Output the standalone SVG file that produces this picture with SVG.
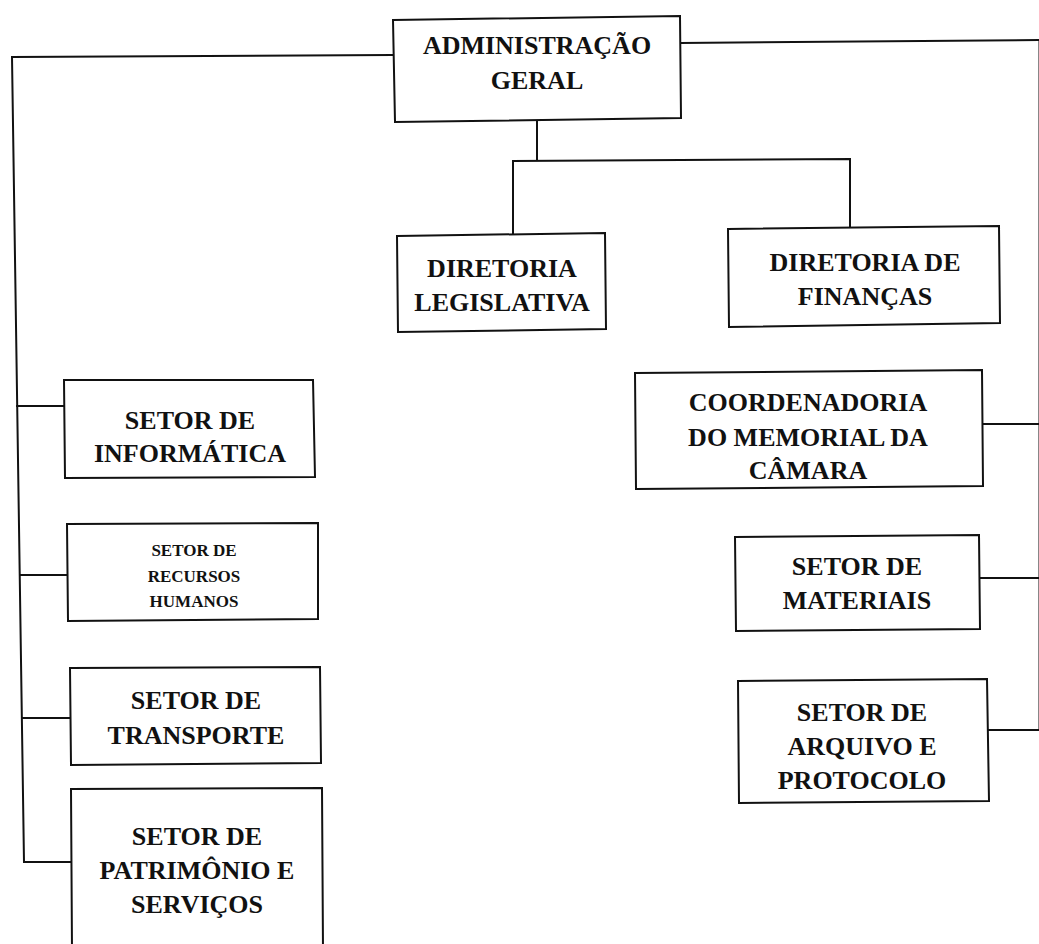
<svg xmlns="http://www.w3.org/2000/svg" width="1039" height="944" viewBox="0 0 1039 944">
<style>
.box{fill:#fff;stroke:#111;stroke-width:2}
.ln{fill:none;stroke:#111;stroke-width:2}
text{font-family:"Liberation Serif","Times New Roman",serif;font-weight:bold;fill:#111;text-anchor:middle;font-size:26px}
.sm{font-size:17px}
</style>
<rect width="1039" height="944" fill="#fff"/>
<g id="connectors">
<polyline class="ln" points="393,55 12,57 24,862 71,862"/>
<line class="ln" x1="16" y1="406" x2="65" y2="406"/>
<line class="ln" x1="19" y1="575" x2="68" y2="575"/>
<line class="ln" x1="22" y1="718" x2="70" y2="718"/>
<polyline class="ln" points="680,43 1039,40"/>
<line class="ln" x1="1039.5" y1="40" x2="1039.5" y2="730"/>
<polyline class="ln" points="537,120 537,160"/>
<polyline class="ln" points="513,236 513,161 850,159 850,228"/>
<line class="ln" x1="982" y1="424" x2="1039" y2="424"/>
<line class="ln" x1="980" y1="578" x2="1039" y2="578"/>
<line class="ln" x1="988" y1="730" x2="1039" y2="730"/>
</g>
<g id="admin">
<polygon class="box" points="393,20 680,16 681,118 395,122"/>
<text x="537" y="54">ADMINISTRAÇÃO</text>
<text x="537" y="89">GERAL</text>
</g>
<g id="dir-legislativa">
<polygon class="box" points="397,236 605,233 606,329 398,332"/>
<text x="502" y="277">DIRETORIA</text>
<text x="502" y="311">LEGISLATIVA</text>
</g>
<g id="dir-financas">
<polygon class="box" points="728,229 999,226 1000,323 729,327"/>
<text x="865" y="271">DIRETORIA DE</text>
<text x="865" y="305">FINANÇAS</text>
</g>
<g id="informatica">
<polygon class="box" points="64,380 313,380 315,477 65,478"/>
<text x="190" y="429">SETOR DE</text>
<text x="190" y="462">INFORMÁTICA</text>
</g>
<g id="recursos-humanos">
<polygon class="box" points="67,524 318,523 318,619 68,621"/>
<text class="sm" x="194" y="556">SETOR DE</text>
<text class="sm" x="194" y="582">RECURSOS</text>
<text class="sm" x="194" y="607">HUMANOS</text>
</g>
<g id="transporte">
<polygon class="box" points="70,668 320,667 321,763 71,765"/>
<text x="196" y="709">SETOR DE</text>
<text x="196" y="744">TRANSPORTE</text>
</g>
<g id="patrimonio">
<polygon class="box" points="71,789 322,788 323,950 72,950"/>
<text x="197" y="845">SETOR DE</text>
<text x="197" y="879">PATRIMÔNIO E</text>
<text x="197" y="913">SERVIÇOS</text>
</g>
<g id="memorial">
<polygon class="box" points="635,373 982,370 983,486 636,489"/>
<text x="808" y="411">COORDENADORIA</text>
<text x="808" y="446">DO MEMORIAL DA</text>
<text x="808" y="479">CÂMARA</text>
</g>
<g id="materiais">
<polygon class="box" points="735,537 979,535 980,629 736,631"/>
<text x="857" y="575">SETOR DE</text>
<text x="857" y="609">MATERIAIS</text>
</g>
<g id="arquivo">
<polygon class="box" points="738,681 987,679 989,801 739,803"/>
<text x="862" y="721">SETOR DE</text>
<text x="862" y="755">ARQUIVO E</text>
<text x="862" y="789">PROTOCOLO</text>
</g>
</svg>
